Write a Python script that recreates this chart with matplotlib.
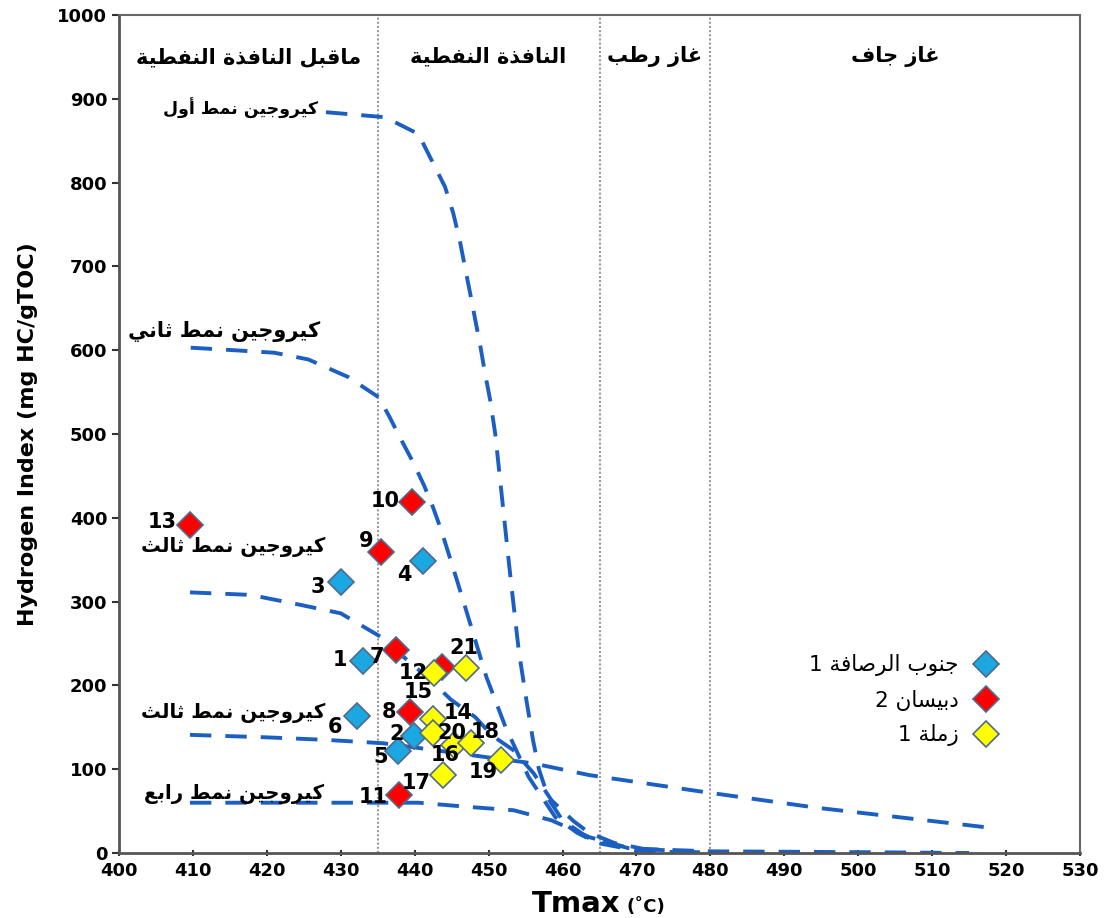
import numpy as np
import matplotlib
matplotlib.use("Agg")
from matplotlib import pyplot as plt

# kerogen maturation envelopes, Tmax (C) vs hydrogen index
type1_t = [428, 436, 440.5, 442.5, 444.1, 445.2, 446.1, 446.8, 447.5, 448.2, 448.9, 449.5,
           450.2, 450.9, 451.5, 452.1, 452.7, 453.3, 454.1, 455.1, 456.0, 456.8, 458.2, 460.0,
           464.0, 470, 480, 500, 515]
type1_hi = [884, 878, 858, 823, 795, 764, 731, 699, 668, 636, 604, 573,
            541, 500, 450, 400, 350, 302, 240, 183, 135, 100, 63, 39,
            15, 5, 2, 1, 0]
type2_t = [409.7, 415.5, 421, 425.6, 431, 435.1, 436.5, 438.0, 439.8, 441.3, 442.5, 443.6,
           445.7, 447.5, 449.7, 452.3, 455.4, 459.0, 462.0, 464.7, 470, 478]
type2_hi = [603, 600, 597, 589, 568, 544, 522, 496, 466, 438, 412, 385,
            326, 274, 210, 150, 91, 43, 24, 12, 3, 0]
type3a_t = [409.6, 417.8, 424.6, 430, 435.4, 438.5, 442.2, 444.9, 448.2, 450.5, 453.3, 456.1,
            458.5, 461.5, 463.6, 467, 472]
type3a_hi = [311, 308, 296, 286, 258, 234, 206, 183, 162, 140, 123, 95,
             63, 38, 24, 12, 3]
type3b_t = [409.6, 420, 428, 435.7, 442.5, 450, 456, 463.6, 479, 494.4, 517]
type3b_hi = [141, 138, 135, 131, 123, 114, 107, 93, 73, 54, 31]
type4_t = [409.6, 420, 430, 440.5, 447.3, 453.4, 458.5, 463.6, 468.8, 480]
type4_hi = [60, 60, 60, 60, 55, 51, 39, 19, 6, 0]

# samples per well
rusafa_ids = ["1", "2", "3", "4", "5", "6"]
rusafa_t = [433.0, 439.9, 430.0, 441.1, 437.8, 432.2]
rusafa_hi = [229, 140, 323, 348, 122, 163]

dubaisan_ids = ["7", "8", "9", "10", "11", "12", "13"]
dubaisan_t = [437.5, 439.4, 435.5, 439.6, 437.9, 443.7, 409.6]
dubaisan_hi = [242, 168, 359, 419, 69, 222, 391]

zamla_ids = ["14", "15", "16", "17", "18", "19", "20", "21"]
zamla_t = [442.5, 442.6, 445.3, 443.8, 447.6, 451.7, 442.5, 447.0]
zamla_hi = [160, 215, 129, 93, 131, 111, 143, 221]

well_names = ["جنوب الرصافة 1", "دبيسان 2", "زملة 1"]
zone_names = ["ماقبل النافذة النفطية", "النافذة النفطية", "غاز رطب", "غاز جاف"]
zone_bounds = [435, 465, 480]
kerogen_names = ["كيروجين نمط أول", "كيروجين نمط ثاني", "كيروجين نمط ثالث",
                 "كيروجين نمط ثالث", "كيروجين نمط رابع"]

# label placement in pixels relative to each marker
label_offsets = {
    "1": (-23, 1), "2": (-17, 2), "3": (-23, -5), "4": (-18, -14), "5": (-18, -6),
    "6": (-22, -11), "7": (-19, -7), "8": (-21, 0), "9": (-15, 11), "10": (-27, 1),
    "11": (-26, -2), "12": (-29, -6), "13": (-28, 3), "14": (25, 6), "15": (-16, -19),
    "16": (-9, -10), "17": (-27, -8), "18": (14, 11), "19": (-18, -12), "20": (19, 0),
    "21": (-3, 20),
}

# minimal arabic shaping: contextual presentation forms, then visual (rtl) order
FORMS = {
    'ا': (0xFE8D, 0xFE8E, None, None), 'أ': (0xFE83, 0xFE84, None, None),
    'ب': (0xFE8F, 0xFE90, 0xFE91, 0xFE92), 'ة': (0xFE93, 0xFE94, None, None),
    'ت': (0xFE95, 0xFE96, 0xFE97, 0xFE98), 'ث': (0xFE99, 0xFE9A, 0xFE9B, 0xFE9C),
    'ج': (0xFE9D, 0xFE9E, 0xFE9F, 0xFEA0), 'د': (0xFEA9, 0xFEAA, None, None),
    'ذ': (0xFEAB, 0xFEAC, None, None), 'ر': (0xFEAD, 0xFEAE, None, None),
    'ز': (0xFEAF, 0xFEB0, None, None), 'س': (0xFEB1, 0xFEB2, 0xFEB3, 0xFEB4),
    'ص': (0xFEB9, 0xFEBA, 0xFEBB, 0xFEBC), 'ط': (0xFEC1, 0xFEC2, 0xFEC3, 0xFEC4),
    'ع': (0xFEC9, 0xFECA, 0xFECB, 0xFECC), 'غ': (0xFECD, 0xFECE, 0xFECF, 0xFED0),
    'ف': (0xFED1, 0xFED2, 0xFED3, 0xFED4), 'ق': (0xFED5, 0xFED6, 0xFED7, 0xFED8),
    'ك': (0xFED9, 0xFEDA, 0xFEDB, 0xFEDC), 'ل': (0xFEDD, 0xFEDE, 0xFEDF, 0xFEE0),
    'م': (0xFEE1, 0xFEE2, 0xFEE3, 0xFEE4), 'ن': (0xFEE5, 0xFEE6, 0xFEE7, 0xFEE8),
    'ه': (0xFEE9, 0xFEEA, 0xFEEB, 0xFEEC), 'و': (0xFEED, 0xFEEE, None, None),
    'ي': (0xFEF1, 0xFEF2, 0xFEF3, 0xFEF4),
}

def shape_ar(text):
    out = []
    for i, ch in enumerate(text):
        if ch not in FORMS:
            out.append(ch)
            continue
        prev = text[i - 1] if i > 0 else ''
        nxt = text[i + 1] if i + 1 < len(text) else ''
        join_prev = prev in FORMS and FORMS[prev][2] is not None
        join_next = nxt in FORMS and FORMS[ch][2] is not None
        iso, fin, ini, med = FORMS[ch]
        if join_prev and join_next:
            code = med
        elif join_prev:
            code = fin
        elif join_next:
            code = ini
        else:
            code = iso
        out.append(chr(code))
    return ''.join(reversed(out))


plt.rcParams['font.family'] = ['DejaVu Sans']
fig = plt.figure(figsize=(11.14, 9.18), dpi=100)
ax = fig.add_axes([119 / 1114, 65 / 918, (1080 - 119) / 1114, (853 - 15) / 918])

curve_kw = dict(color='#1c5fc2', lw=2.8, dashes=(5.5, 3.6), solid_capstyle='butt')
for t, hi in [(type1_t, type1_hi), (type2_t, type2_hi), (type3a_t, type3a_hi),
              (type3b_t, type3b_hi), (type4_t, type4_hi)]:
    ax.plot(t, hi, **curve_kw)

for b in zone_bounds:
    ax.axvline(b, color='#9a9a9a', lw=1.5, ls=(0, (1, 1)), zorder=1)

mk = dict(marker='D', ls='none', ms=13, mec='#4f6a8c', mew=1.2, zorder=4)
ax.plot(rusafa_t, rusafa_hi, mfc='#1aa7e2', label=shape_ar(well_names[0]), **mk)
ax.plot(dubaisan_t, dubaisan_hi, mfc='#ff0000', label=shape_ar(well_names[1]), **mk)
ax.plot(zamla_t, zamla_hi, mfc='#ffff00', label=shape_ar(well_names[2]), **mk)

for ids, ts, his in [(rusafa_ids, rusafa_t, rusafa_hi), (dubaisan_ids, dubaisan_t, dubaisan_hi),
                     (zamla_ids, zamla_t, zamla_hi)]:
    for s, t, hi in zip(ids, ts, his):
        ax.annotate(s, (t, hi), xytext=label_offsets[s], textcoords='offset pixels',
                    ha='center', va='center', fontsize=15, fontweight='bold', zorder=5)

# zone headers across the top
zone_x = [417.5, 450, 472.5, 505]
for name, x in zip(zone_names, zone_x):
    ax.text(x, 950, shape_ar(name), ha='center', va='center', fontsize=15, fontweight='bold')

kerogen_pos = [(416.5, 888), (414.2, 622), (415.5, 365), (415.5, 167), (415.5, 70)]
kerogen_size = [12.5, 15, 14.2, 14.2, 14.2]
for name, (x, y), fs in zip(kerogen_names, kerogen_pos, kerogen_size):
    ax.text(x, y, shape_ar(name), ha='center', va='center', fontsize=fs, fontweight='bold')

ax.set_xlim(400, 530)
ax.set_ylim(0, 1000)
ax.set_xticks(np.arange(400, 531, 10))
ax.set_yticks(np.arange(0, 1001, 100))
ax.tick_params(axis='both', labelsize=13, width=1.5, length=5, colors='#333333',
               labelcolor='black')
ax.tick_params(axis='x', direction='inout', pad=4)
for lbl in ax.get_xticklabels() + ax.get_yticklabels():
    lbl.set_fontweight('bold')
for side in ['left', 'bottom']:
    ax.spines[side].set_linewidth(2)
    ax.spines[side].set_color('#555555')
for side in ['top', 'right']:
    ax.spines[side].set_linewidth(1.5)
    ax.spines[side].set_color('#666666')

ax.set_ylabel('Hydrogen Index (mg HC/gTOC)', fontsize=16, fontweight='bold', labelpad=14)
fig.text(0.557, 0.006, 'Tmax', ha='right', va='baseline', fontsize=21, fontweight='bold')
fig.text(0.562, 0.006, '(˚C)', ha='left', va='baseline', fontsize=13, fontweight='bold')

ax.legend(loc='upper right', bbox_to_anchor=(0.925, 0.237), frameon=False, markerfirst=False,
          handletextpad=0.3, labelspacing=0.62, borderaxespad=0, borderpad=0,
          prop=dict(size=15.5), alignment='right')

fig.savefig('out.png', dpi=100)
